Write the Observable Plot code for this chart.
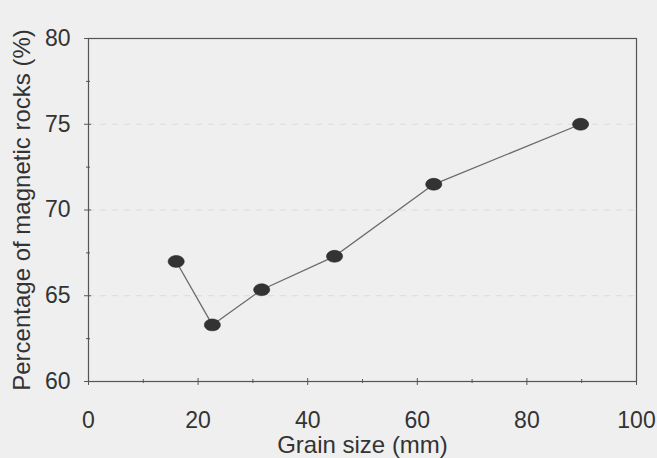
<!DOCTYPE html>
<html>
<head>
<meta charset="utf-8">
<script src="https://cdn.jsdelivr.net/npm/d3@7"></script>
<script src="https://cdn.jsdelivr.net/npm/@observablehq/plot@0.6"></script>
<style>
  html, body { margin: 0; padding: 0; background: #efefef; }
  #chart svg { display: block; }
</style>
</head>
<body>
<div id="chart"></div>
<script>
const grainSize = [16, 22.6, 31.6, 44.9, 63, 89.8];
const magneticPct = [67.0, 63.3, 65.35, 67.3, 71.5, 75.0];
const xTicks = [0, 20, 40, 60, 80, 100];
const xMinor = [10, 30, 50, 70, 90];
const yTicks = [60, 65, 70, 75, 80];
const yMinor = [62.5, 67.5, 72.5, 77.5];
const gridLevels = [65, 70, 75];
const xLabel = "Grain size (mm)";
const yLabel = "Percentage of magnetic rocks (%)";

const data = grainSize.map((g, i) => ({g, p: magneticPct[i]}));

const ellipse = {
  draw(ctx, size) {
    const r = Math.sqrt(size / Math.PI);
    const rx = r * 1.15, ry = r * 0.85, k = 0.5523;
    ctx.moveTo(rx, 0);
    ctx.bezierCurveTo(rx, ry * k, rx * k, ry, 0, ry);
    ctx.bezierCurveTo(-rx * k, ry, -rx, ry * k, -rx, 0);
    ctx.bezierCurveTo(-rx, -ry * k, -rx * k, -ry, 0, -ry);
    ctx.bezierCurveTo(rx * k, -ry, rx, -ry * k, rx, 0);
    ctx.closePath();
  }
};

const font = "'Liberation Sans', Arial, sans-serif";
const axisColor = "#555";

const chart = Plot.plot({
  width: 657,
  height: 458,
  marginLeft: 88,
  marginRight: 21,
  marginTop: 38,
  marginBottom: 77,
  style: {background: "#efefef", fontFamily: font, color: "#333"},
  x: {domain: [0, 100]},
  y: {domain: [60, 80]},
  marks: [
    Plot.ruleY(gridLevels, {stroke: "#dadada", strokeDasharray: "6,6", strokeWidth: 1}),
    Plot.frame({stroke: axisColor, strokeWidth: 1.2}),
    Plot.axisX({ticks: xTicks, tickSize: 7, dy: -3, text: null, stroke: axisColor, label: null}),
    Plot.axisX({ticks: xMinor, tickSize: 4, dy: -2, text: null, stroke: axisColor, label: null}),
    Plot.axisY({ticks: yTicks, tickSize: 7, dx: 3, text: null, stroke: axisColor, label: null}),
    Plot.axisY({ticks: yMinor, tickSize: 4, dx: 2, text: null, stroke: axisColor, label: null}),
    Plot.axisX({ticks: xTicks, tickSize: 0, tickPadding: 30, fontSize: 23, fill: "#333", label: null}),
    Plot.axisY({ticks: yTicks, tickSize: 0, tickPadding: 18, fontSize: 23, fill: "#333", label: null}),
    Plot.text([xLabel], {text: d => d, frameAnchor: "bottom", dy: 71, fontSize: 24, fill: "#333"}),
    Plot.text([yLabel], {text: d => d, frameAnchor: "left", textAnchor: "middle", dx: -66, rotate: -90, fontSize: 24, fill: "#333"}),
    Plot.line(data, {x: "g", y: "p", stroke: "#6a6a6a", strokeWidth: 1.3}),
    Plot.dot(data, {x: "g", y: "p", r: 7, symbol: ellipse, fill: "#333", stroke: "#222", strokeWidth: 0.5})
  ]
});
document.getElementById("chart").appendChild(chart);
</script>
</body>
</html>
